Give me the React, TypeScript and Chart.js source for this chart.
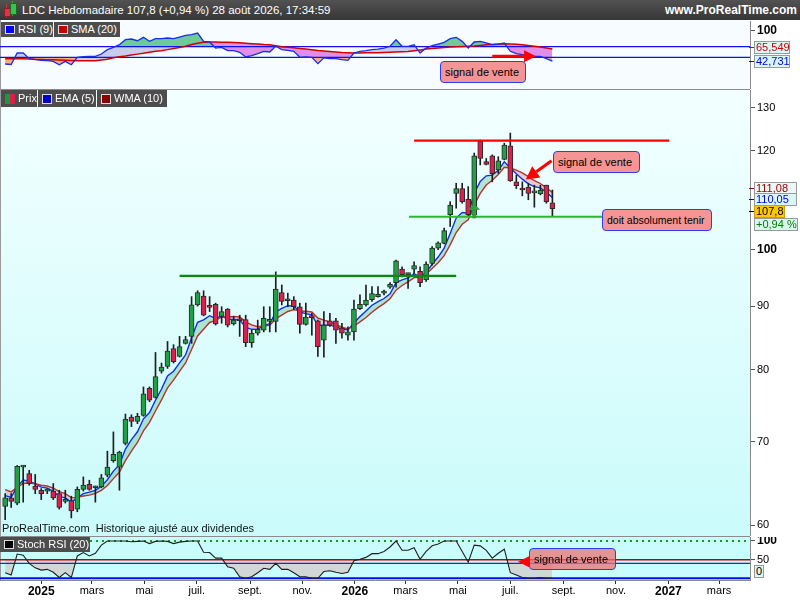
import React, { useEffect, useRef } from 'react';
import { Chart, registerables } from 'chart.js';

Chart.register(...registerables);

const FONT = '"Liberation Sans", Arial, Helvetica, sans-serif';

const DAY0 = Date.UTC(2025, 0, 1);
const day = (iso: string) => (Date.parse(iso + 'T00:00:00Z') - DAY0) / 86400000;

// ---------- data (weekly candles, first week 2024-11-20) ----------
const firstWeek = '2024-11-20';
const opens = [
  62.1, 63.1, 62.5, 66.8, 66.0, 64.5, 64.0, 63.9, 63.9, 63.6,
  62.7, 62.8, 61.8, 64.1, 64.7, 64.3, 64.4, 65.8, 67.6, 66.8,
  69.8, 73.3, 72.7, 73.5, 77.3, 76.0, 79.8, 80.5, 83.2, 82.0,
  84.0, 85.1, 90.2, 91.7, 89.9, 90.3, 88.3, 89.5, 87.1, 87.8,
  87.8, 84.1, 85.6, 86.1, 87.5, 87.5, 92.3, 90.9, 91.0, 89.9,
  87.0, 88.3, 87.6, 84.5, 87.6, 87.6, 86.4, 85.3, 85.8, 89.6,
  90.2, 91.1, 91.6, 92.2, 93.2, 94.0, 96.4, 95.4, 96.4, 96.0,
  94.5, 97.4, 100.2, 101.1, 106.6, 110.9, 111.9, 109.7, 106.6, 122.2,
  117.6, 118.9, 115.8, 118.1, 121.1, 113.3, 111.9, 112.2, 111.0, 110.8,
  112.6, 109.0,
];
const highs = [
  63.6, 63.6, 67.0, 67.0, 66.4, 65.9, 64.2, 64.2, 64.8, 64.0,
  64.0, 63.3, 64.4, 65.6, 65.2, 64.5, 65.9, 68.8, 71.3, 68.8,
  73.7, 73.6, 73.8, 77.5, 77.5, 82.6, 81.0, 84.3, 83.8, 85.1,
  85.1, 91.6, 92.6, 92.6, 91.6, 90.5, 89.9, 89.6, 88.3, 88.5,
  88.5, 86.1, 87.7, 89.9, 89.9, 95.9, 93.6, 92.2, 91.6, 90.5,
  90.5, 88.8, 87.7, 89.1, 88.8, 88.0, 87.2, 86.6, 91.0, 91.9,
  93.6, 93.3, 93.3, 92.7, 94.0, 98.0, 96.8, 95.7, 97.7, 96.8,
  97.7, 100.5, 101.4, 104.0, 109.2, 113.0, 113.0, 112.3, 119.5, 122.4,
  118.3, 119.1, 118.7, 121.7, 124.0, 114.7, 113.3, 113.0, 112.6, 112.6,
  112.6, 111.6,
];
const lows = [
  60.6, 62.0, 62.3, 62.6, 64.6, 63.6, 62.9, 63.6, 62.9, 61.8,
  62.5, 60.8, 61.5, 63.9, 64.0, 62.6, 64.3, 65.6, 67.4, 64.0,
  69.6, 72.0, 72.4, 73.4, 75.4, 75.9, 79.5, 80.2, 81.0, 81.9,
  83.9, 84.0, 90.0, 88.4, 89.1, 86.9, 87.2, 86.6, 86.9, 85.1,
  83.5, 83.4, 85.3, 85.8, 85.8, 85.8, 90.2, 89.9, 89.4, 85.6,
  86.9, 85.3, 82.0, 81.9, 86.7, 84.0, 84.8, 84.5, 84.5, 89.4,
  90.0, 90.8, 91.5, 91.9, 93.0, 93.2, 95.0, 93.0, 95.6, 93.3,
  94.2, 97.1, 99.9, 101.0, 104.3, 107.9, 108.9, 106.2, 106.0, 116.9,
  116.9, 113.3, 115.1, 118.0, 113.4, 111.9, 110.4, 109.6, 108.1, 110.6,
  108.9, 106.4,
];
const closes = [
  63.1, 62.7, 66.9, 66.9, 64.8, 64.1, 63.6, 64.0, 63.1, 62.0,
  62.8, 61.6, 64.1, 64.6, 64.1, 64.4, 65.5, 66.8, 68.4, 68.7,
  73.0, 72.7, 73.4, 76.5, 75.6, 79.0, 80.4, 82.8, 81.2, 83.5,
  84.6, 90.2, 92.3, 88.5, 89.8, 87.1, 89.1, 86.9, 87.7, 87.6,
  84.1, 85.6, 86.2, 88.0, 87.7, 92.9, 90.8, 91.0, 89.9, 87.0,
  88.2, 88.1, 83.5, 86.9, 86.9, 86.1, 85.6, 85.8, 89.5, 90.3,
  91.0, 92.1, 92.0, 92.3, 93.7, 97.9, 95.4, 95.5, 97.0, 94.0,
  97.3, 100.2, 101.2, 103.5, 108.5, 111.9, 109.2, 106.6, 118.9, 118.3,
  117.0, 115.0, 117.8, 121.3, 113.5, 112.5, 111.6, 110.9, 111.1, 111.6,
  109.2, 107.8,
];
const ema5 = [
  63.37, 63.15, 64.40, 65.23, 65.09, 64.76, 64.37, 64.25, 63.87, 63.25,
  63.10, 62.60, 63.10, 63.60, 63.77, 63.98, 64.49, 65.26, 66.31, 67.11,
  69.07, 70.28, 71.32, 73.05, 73.90, 75.60, 77.20, 79.07, 79.78, 81.02,
  82.21, 84.87, 87.35, 87.73, 88.42, 87.98, 88.35, 87.87, 87.81, 87.74,
  86.53, 86.22, 86.21, 86.81, 87.11, 89.04, 89.63, 90.09, 90.03, 89.02,
  88.75, 88.53, 86.85, 86.87, 86.88, 86.62, 86.28, 86.12, 87.25, 88.27,
  89.18, 90.15, 90.77, 91.28, 92.09, 94.03, 94.49, 94.83, 95.55, 95.03,
  95.79, 97.26, 98.57, 100.21, 102.97, 105.95, 107.03, 106.89, 110.89, 113.36,
  114.57, 114.71, 115.74, 117.59, 116.23, 114.99, 113.86, 112.87, 112.28, 112.05,
  111.10, 110.05,
];
const wma10 = [
  64.08, 63.81, 64.34, 64.81, 64.86, 64.77, 64.59, 64.50, 64.25, 63.83,
  63.59, 63.13, 63.16, 63.32, 63.43, 63.62, 63.99, 64.57, 65.39, 66.17,
  67.60, 68.80, 69.92, 71.44, 72.57, 74.12, 75.65, 77.35, 78.47, 79.77,
  81.01, 83.05, 85.16, 86.23, 87.32, 87.66, 88.21, 88.21, 88.28, 88.21,
  87.43, 86.94, 86.63, 86.77, 86.86, 87.93, 88.52, 89.11, 89.42, 89.17,
  89.15, 89.04, 88.04, 87.71, 87.40, 86.96, 86.55, 86.28, 86.77, 87.41,
  88.12, 88.98, 89.75, 90.42, 91.25, 92.71, 93.51, 94.15, 94.88, 94.93,
  95.51, 96.51, 97.54, 98.82, 100.81, 103.15, 104.74, 105.60, 108.51, 110.90,
  112.62, 113.61, 114.85, 116.41, 116.24, 115.80, 115.18, 114.39, 113.55, 112.95,
  112.04, 111.08,
];
const rsi9 = [
  37.4, 36.5, 58.1, 58.1, 47.4, 45.5, 44.3, 43.6, 42.4, 36.0,
  42.4, 36.0, 50.0, 51.2, 51.8, 51.8, 56.2, 64.4, 68.8, 73.8,
  83.2, 84.5, 81.3, 87.7, 80.1, 85.1, 85.1, 86.4, 85.1, 88.3,
  91.5, 92.6, 95.8, 80.1, 78.9, 67.5, 68.8, 62.5, 62.5, 59.4,
  50.6, 53.0, 56.8, 61.3, 60.0, 70.8, 64.4, 63.0, 61.3, 50.0,
  50.6, 50.0, 38.0, 49.0, 47.4, 47.4, 45.5, 44.3, 58.1, 61.3,
  62.5, 64.4, 65.6, 67.5, 70.8, 83.2, 70.8, 70.8, 73.8, 58.1,
  67.5, 71.9, 75.0, 78.3, 85.1, 87.7, 80.1, 67.5, 78.9, 80.1,
  77.0, 73.8, 75.0, 77.0, 61.3, 56.8, 54.9, 53.0, 51.8, 51.8,
  47.4, 42.731,
];
const rsiSma20 = [
  47.4, 47.4, 47.4, 47.2, 46.8, 46.2, 46.0, 45.6, 45.4, 45.0,
  44.6, 44.0, 43.6, 43.6, 43.6, 43.6, 45.0, 46.5, 49.0, 51.0,
  52.5, 54.5, 56.0, 57.5, 59.5, 61.5, 62.5, 64.5, 66.5, 68.5,
  71.0, 74.0, 76.5, 78.5, 78.9, 78.9, 78.6, 78.3, 78.0, 77.5,
  76.5, 75.7, 75.0, 74.0, 73.5, 72.0, 70.0, 69.0, 68.0, 66.8,
  65.5, 64.4, 63.0, 62.0, 61.0, 60.0, 59.0, 58.5, 58.0, 58.0,
  58.4, 58.6, 58.8, 59.2, 59.6, 60.0, 60.4, 61.0, 62.5, 64.0,
  65.5, 66.8, 67.5, 68.3, 69.3, 70.0, 70.6, 71.0, 71.5, 72.5,
  73.5, 74.3, 75.0, 75.5, 75.0, 74.5, 73.8, 72.5, 71.0, 69.5,
  67.5, 65.549,
];
const stochRsi20 = [
  15, 9, 65, 62, 40, 28, 22, 24, 16, 2,
  15, 2, 60, 69, 60, 67, 89, 100, 100, 100,
  100, 98, 99, 100, 93, 99, 100, 99, 93, 97,
  99, 100, 100, 70, 69, 54, 54, 31, 27, 4,
  0, 4, 15, 27, 24, 40, 24, 24, 15, 4,
  4, 0, 0, 18, 20, 16, 13, 16, 47, 51,
  56, 66, 66, 72, 84, 100, 75, 75, 82, 51,
  72, 87, 92, 100, 100, 100, 72, 43, 89, 87,
  75, 54, 67, 78, 15, 9, 2, 0, 0, 2,
  0, 0,
];

// axis ticks / labels
const monthTickDates = [
  '2025-01-01', '2025-03-01', '2025-05-01', '2025-07-01', '2025-09-01', '2025-11-01',
  '2026-01-01', '2026-03-01', '2026-05-01', '2026-07-01', '2026-09-01', '2026-11-01',
  '2027-01-01', '2027-03-01',
];
const monthLabels = ['2025', 'mars', 'mai', 'juil.', 'sept.', 'nov.', '2026', 'mars', 'mai', 'juil.', 'sept.', 'nov.', '2027', 'mars'];
const priceTicks = [60, 70, 80, 90, 100, 120, 130];
const rsiTicks = [100];
const stochTicks = [50, 100];
const rsiLevels = [70, 50];

// scale ranges
const X_MIN = day('2024-11-14');
const X_MAX = day('2027-04-06');
const PRICE_MIN = 58.8;
const PRICE_MAX = 134.3;
const RSI_MIN = -9.8;
const RSI_MAX = 118.5;
const STOCH_MIN = -4.6;
const STOCH_MAX = 110.7;

// drawn annotations (data coordinates)
const resistance = { from: '2026-03-11', to: '2027-01-02', level: 122.3 };
const support1 = { from: '2025-06-11', to: '2026-04-29', level: 95.2 };
const support2 = { from: '2026-03-05', to: '2026-10-19', level: 106.2 };

const weekX = closes.map((_, i) => day(firstWeek) + 7 * i);

type Arrow = { x1: number; y1: number; x2: number; y2: number; color: string; width: number; hl: number; hw: number };

function makeArrowPlugin(items: Arrow[]) {
  return {
    id: 'arrows',
    afterDatasetsDraw(chart: any) {
      const xs = chart.scales.x;
      const ys = chart.scales.y;
      const ctx = chart.ctx;
      items.forEach((a) => {
        const x1 = xs.getPixelForValue(a.x1);
        const y1 = ys.getPixelForValue(a.y1);
        const x2 = xs.getPixelForValue(a.x2);
        const y2 = ys.getPixelForValue(a.y2);
        const ang = Math.atan2(y2 - y1, x2 - x1);
        const bx = x2 - Math.cos(ang) * a.hl;
        const by = y2 - Math.sin(ang) * a.hl;
        const hw = a.hw / 2;
        ctx.save();
        ctx.strokeStyle = a.color;
        ctx.fillStyle = a.color;
        ctx.lineWidth = a.width;
        ctx.beginPath();
        ctx.moveTo(x1, y1);
        ctx.lineTo(bx, by);
        ctx.stroke();
        ctx.beginPath();
        ctx.moveTo(x2, y2);
        ctx.lineTo(bx - Math.sin(ang) * hw, by + Math.cos(ang) * hw);
        ctx.lineTo(bx + Math.sin(ang) * hw, by - Math.cos(ang) * hw);
        ctx.closePath();
        ctx.fill();
        ctx.restore();
      });
    },
  };
}

const hiddenX = () => ({ type: 'linear', min: X_MIN, max: X_MAX, offset: false, display: false });

function rightAxis(type: string, min: number, max: number, tickValues: number[]) {
  return {
    type,
    position: 'right',
    min,
    max,
    afterFit: (s: any) => {
      s.width = 50;
      s.paddingTop = 0;
      s.paddingBottom = 0;
    },
    afterBuildTicks: (s: any) => {
      s.ticks = tickValues.map((v) => ({ value: v }));
    },
    border: { display: true, color: '#8a8a8a', width: 1 },
    grid: { drawOnChartArea: false, drawTicks: true, tickLength: 5, color: '#555' },
    ticks: {
      padding: 2,
      color: '#000',
      autoSkip: false,
      callback: (v: any) => String(v),
      font: (ctx: any) =>
        ctx.tick && ctx.tick.value === 100
          ? { family: FONT, size: 12, weight: 'bold' }
          : { family: FONT, size: 11, weight: 'normal' },
    },
  };
}

const levelLine = (v: number, color: string, width: number, dash: number[] = []) => ({
  type: 'line',
  data: [
    { x: X_MIN, y: v },
    { x: X_MAX, y: v },
  ],
  borderColor: color,
  borderWidth: width,
  borderDash: dash,
  pointRadius: 0,
  fill: false,
  order: 4,
});

const series = (vals: number[]) => vals.map((v, i) => ({ x: weekX[i], y: v }));

const baseOptions = {
  responsive: false,
  animation: false,
  events: [],
  layout: { padding: 0 },
  plugins: { legend: { display: false }, tooltip: { enabled: false } },
};

function rsiConfig(): any {
  const arrows: Arrow[] = [
    { x1: day('2026-06-10'), y1: 51.8, x2: day('2026-07-31'), y2: 51.8, color: '#ff0000', width: 3, hl: 12, hw: 12 },
  ];
  return {
    type: 'line',
    data: {
      datasets: [
        { data: series(rsi9), borderWidth: 0, pointRadius: 0, order: 10, fill: { target: 5, above: 'rgb(200,205,236)', below: 'rgb(224,142,232)' } },
        { data: series(rsi9), borderWidth: 0, pointRadius: 0, order: 9, fill: { target: { value: 70 }, above: 'rgb(110,202,150)', below: 'rgba(0,0,0,0)' } },
        { data: series(rsi9), borderWidth: 0, pointRadius: 0, order: 8, fill: { target: { value: 50 }, above: 'rgba(0,0,0,0)', below: 'rgb(242,176,128)' } },
        levelLine(rsiLevels[0], '#1010f0', 1.3),
        levelLine(rsiLevels[1], '#1010f0', 1.3),
        { data: series(rsiSma20), borderColor: '#d40000', borderWidth: 1.5, pointRadius: 0, fill: false, order: 3 },
        { data: series(rsi9), borderColor: '#1a2cf0', borderWidth: 1.3, pointRadius: 0, fill: false, order: 1 },
      ],
    },
    options: {
      ...baseOptions,
      scales: { x: hiddenX(), y: rightAxis('linear', RSI_MIN, RSI_MAX, rsiTicks) },
    },
    plugins: [makeArrowPlugin(arrows)],
  };
}

function priceConfig(): any {
  const up = (i: number) => closes[i] >= opens[i];
  const arrows: Arrow[] = [
    { x1: day('2026-08-18'), y1: 117.8, x2: day('2026-07-19'), y2: 113.8, color: '#ff0000', width: 3, hl: 13, hw: 14 },
    { x1: weekX[78], y1: 105.9, x2: weekX[78], y2: 108.8, color: '#2e9e3e', width: 4, hl: 6, hw: 12 },
  ];
  const hLine = (a: { from: string; to: string; level: number }, color: string) => ({
    type: 'line',
    data: [
      { x: day(a.from), y: a.level },
      { x: day(a.to), y: a.level },
    ],
    borderColor: color,
    borderWidth: 2.2,
    pointRadius: 0,
    fill: false,
    order: -1,
  });
  return {
    type: 'bar',
    data: {
      datasets: [
        {
          type: 'bar',
          data: weekX.map((x, i) => ({ x, y: [lows[i], highs[i]] })),
          backgroundColor: '#1e1e1e',
          barThickness: 1,
          grouped: false,
          order: 1,
        },
        {
          type: 'bar',
          data: weekX.map((x, i) => ({ x, y: [opens[i], closes[i]] })),
          backgroundColor: closes.map((_, i) => (up(i) ? '#22a046' : '#dc1f4b')),
          borderColor: '#2a2a2a',
          borderWidth: 1,
          borderSkipped: false,
          barThickness: 5,
          minBarLength: 2,
          grouped: false,
          order: 0,
        },
        {
          type: 'line',
          data: series(ema5),
          borderColor: '#1030e8',
          borderWidth: 1.4,
          pointRadius: 0,
          order: 3,
          fill: { target: 3, above: 'rgba(70,180,110,0.33)', below: 'rgba(225,90,110,0.30)' },
        },
        { type: 'line', data: series(wma10), borderColor: '#b03434', borderWidth: 1.4, pointRadius: 0, fill: false, order: 2 },
        hLine(resistance, '#ff0000'),
        hLine(support1, '#0a8a0a'),
        hLine(support2, '#2fb52f'),
      ],
    },
    options: {
      ...baseOptions,
      scales: { x: hiddenX(), y: rightAxis('logarithmic', PRICE_MIN, PRICE_MAX, priceTicks) },
    },
    plugins: [makeArrowPlugin(arrows)],
  };
}

function stochConfig(): any {
  const arrows: Arrow[] = [
    { x1: day('2026-07-24'), y1: 44.5, x2: day('2026-07-10'), y2: 44.5, color: '#ff0000', width: 2, hl: 11, hw: 11 },
  ];
  return {
    type: 'line',
    data: {
      datasets: [
        { data: series(stochRsi20), borderWidth: 0, pointRadius: 0, order: 10, fill: { target: { value: 50 }, above: 'rgba(0,0,0,0)', below: 'rgba(212,200,196,0.72)' } },
        levelLine(100, '#12a012', 2, [2, 4]),
        levelLine(50, '#c00000', 1.5),
        levelLine(40, '#2424d0', 1.2),
        levelLine(0, '#0a0aff', 2),
        { data: series(stochRsi20), borderColor: '#1e1e1e', borderWidth: 1.1, pointRadius: 0, fill: false, order: 1 },
      ],
    },
    options: {
      ...baseOptions,
      scales: {
        x: {
          type: 'linear',
          position: 'bottom',
          min: X_MIN,
          max: X_MAX,
          offset: false,
          afterFit: (s: any) => {
            s.height = 20;
            s.paddingLeft = 0;
            s.paddingRight = 0;
          },
          afterBuildTicks: (s: any) => {
            s.ticks = monthTickDates.map((d) => ({ value: day(d) }));
          },
          border: { display: true, color: '#8a8a8a', width: 1 },
          grid: { drawOnChartArea: false, drawTicks: true, tickLength: 4, color: '#333' },
          ticks: {
            padding: 0,
            autoSkip: false,
            maxRotation: 0,
            color: '#000',
            callback: (_v: any, i: number) => monthLabels[i],
            font: (ctx: any) =>
              /^\d{4}$/.test(monthLabels[ctx.index] || '')
                ? { family: FONT, size: 12, weight: 'bold' }
                : { family: FONT, size: 11, weight: 'normal' },
          },
        },
        y: rightAxis('linear', STOCH_MIN, STOCH_MAX, stochTicks),
      },
    },
    plugins: [makeArrowPlugin(arrows)],
  };
}

// ---------- html helpers ----------
const abs = (s: React.CSSProperties): React.CSSProperties => ({ position: 'absolute', ...s });

function Tag({ left, top, width, height, children }: any) {
  return (
    <div
      style={abs({
        left,
        top,
        width,
        height,
        background: '#4d4d4d',
        color: '#fff',
        fontSize: 11,
        lineHeight: height + 'px',
        whiteSpace: 'nowrap',
        boxSizing: 'border-box',
      })}
    >
      {children}
    </div>
  );
}

function Swatch({ left, color, top = 3, h = 9 }: any) {
  return <div style={abs({ left, top, width: 10, height: h, background: color, boxSizing: 'border-box', border: '1px solid #ddd' })} />;
}

function Note({ left, top, width, text, bg = '#f59494', size = 11 }: any) {
  return (
    <div
      style={abs({
        left,
        top,
        width,
        height: 22,
        boxSizing: 'border-box',
        background: bg,
        border: '1px solid #2b3ff0',
        borderRadius: 4,
        fontSize: size,
        color: '#000',
        lineHeight: '20px',
        paddingLeft: 4,
        whiteSpace: 'nowrap',
        overflow: 'hidden',
      })}
    >
      {text}
    </div>
  );
}

function ValueBox({ top, width, text, color, bg, border = '#9a9a9a', tick }: any) {
  return (
    <>
      <div style={abs({ left: 749, top: top + 6, width: 5, height: 1, background: tick || color })} />
      <div
        style={abs({
          left: 754,
          top,
          width,
          height: 13,
          boxSizing: 'border-box',
          border: `1px solid ${border}`,
          background: bg,
          color,
          fontSize: 11,
          lineHeight: '11px',
          paddingLeft: 1,
          whiteSpace: 'nowrap',
        })}
      >
        {text}
      </div>
    </>
  );
}

export default function App() {
  const rsiRef = useRef<HTMLCanvasElement>(null);
  const priceRef = useRef<HTMLCanvasElement>(null);
  const stochRef = useRef<HTMLCanvasElement>(null);

  useEffect(() => {
    document.body.style.margin = '0';
    const charts = [
      new Chart(rsiRef.current as HTMLCanvasElement, rsiConfig()),
      new Chart(priceRef.current as HTMLCanvasElement, priceConfig()),
      new Chart(stochRef.current as HTMLCanvasElement, stochConfig()),
    ];
    return () => charts.forEach((c) => c.destroy());
  }, []);

  return (
    <div style={{ position: 'relative', width: 800, height: 600, overflow: 'hidden', background: '#fff', fontFamily: FONT }}>
      {/* pane backgrounds */}
      <div style={abs({ left: 0, top: 20, width: 750, height: 69, background: '#f7fdff' })} />
      <div style={abs({ left: 0, top: 89, width: 750, height: 1, background: '#8c8c8c' })} />
      <div style={abs({ left: 0, top: 90, width: 750, height: 446, background: 'linear-gradient(to bottom, #f3ffff, #cbfbfb)' })} />
      <div style={abs({ left: 0, top: 536, width: 750, height: 1, background: '#8c8c8c' })} />
      <div style={abs({ left: 0, top: 537, width: 750, height: 43, background: '#c9fdfd' })} />
      <div style={abs({ left: 0, top: 20, width: 1, height: 560, background: '#9a9a9a' })} />

      {/* charts */}
      <canvas ref={rsiRef} width={800} height={68} style={abs({ left: 0, top: 21, width: 800, height: 68 })} />
      <canvas ref={priceRef} width={800} height={446} style={abs({ left: 0, top: 90, width: 800, height: 446 })} />
      <canvas ref={stochRef} width={800} height={63} style={abs({ left: 0, top: 537, width: 800, height: 63 })} />

      {/* header */}
      <div style={abs({ left: 0, top: 0, width: 800, height: 20, background: 'linear-gradient(#525252, #363636)' })}>
        <div style={abs({ left: 6, top: 4, width: 1, height: 14, background: '#c33' })} />
        <div style={abs({ left: 4, top: 8, width: 5, height: 7, background: '#e0304a', border: '1px solid #822' })} />
        <div style={abs({ left: 12, top: 1, width: 1, height: 15, background: '#3a3' })} />
        <div style={abs({ left: 10, top: 3, width: 5, height: 10, background: '#3cc050', border: '1px solid #262' })} />
        <span style={abs({ left: 22, top: 0, lineHeight: '20px', color: '#fff', fontSize: 11.5, whiteSpace: 'nowrap' })}>
          LDC Hebdomadaire 107,8 (+0,94 %) 28 août 2026, 17:34:59
        </span>
        <span style={abs({ right: 3, top: 0, lineHeight: '20px', color: '#fff', fontSize: 12, fontWeight: 'bold', whiteSpace: 'nowrap' })}>
          www.ProRealTime.com
        </span>
      </div>

      {/* legend tags */}
      <Tag left={1} top={22} width={52} height={15}>
        <Swatch left={4} color="#0000ff" />
        <span style={abs({ left: 17, top: 0 })}>RSI (9)</span>
      </Tag>
      <Tag left={54} top={22} width={66} height={15}>
        <Swatch left={4} color="#cc0000" />
        <span style={abs({ left: 17, top: 0 })}>SMA (20)</span>
      </Tag>

      <Tag left={1} top={90} width={36} height={17}>
        <div style={abs({ left: 4, top: 4, width: 5, height: 10, background: '#1a9a3a' })} />
        <div style={abs({ left: 9, top: 4, width: 5, height: 10, background: '#e01c4a' })} />
        <span style={abs({ left: 17, top: 0 })}>Prix</span>
      </Tag>
      <Tag left={38} top={90} width={58} height={17}>
        <Swatch left={4} top={4} h={10} color="#0000cc" />
        <span style={abs({ left: 17, top: 0 })}>EMA (5)</span>
      </Tag>
      <Tag left={97} top={90} width={70} height={17}>
        <Swatch left={4} top={4} h={10} color="#8b0000" />
        <span style={abs({ left: 17, top: 0 })}>WMA (10)</span>
      </Tag>

      <div style={abs({ left: 2, top: 522, fontSize: 11, color: '#111', whiteSpace: 'nowrap' })}>
        ProRealTime.com&nbsp; Historique ajusté aux dividendes
      </div>

      <Tag left={0} top={537} width={90} height={15}>
        <Swatch left={4} color="#000" />
        <span style={abs({ left: 17, top: 0 })}>Stoch RSI (20)</span>
      </Tag>

      {/* notes */}
      <Note left={440} top={61} width={86} text="signal de vente" />
      <Note left={553} top={151} width={87} text="signal de vente" />
      <Note left={602} top={209} width={110} text="doit absolument tenir" size={10.5} />
      <Note left={529} top={548} width={87} text="signal de vente" bg="rgba(235,112,112,0.75)" />

      {/* right axis value boxes */}
      <ValueBox top={41} width={36} text="65,549" color="#d00000" bg="#d9f7f7" />
      <ValueBox top={55} width={36} text="42,731" color="#0000e0" bg="#d9f7f7" />
      <ValueBox top={182} width={43} text="111,08" color="#a00000" bg="#eef7f7" />
      <ValueBox top={193} width={43} text="110,05" color="#0000e0" bg="#d9f7f7" />
      <ValueBox top={205} width={31} text="107,8" color="#000" bg="#ffc800" border="#c9a000" />
      <ValueBox top={218} width={44} text="+0,94 %" color="#008000" bg="#daf7ee" tick="transparent" />
      <ValueBox top={565} width={10} text="0" color="#000" bg="#d9f7f7" tick="transparent" />
    </div>
  );
}
